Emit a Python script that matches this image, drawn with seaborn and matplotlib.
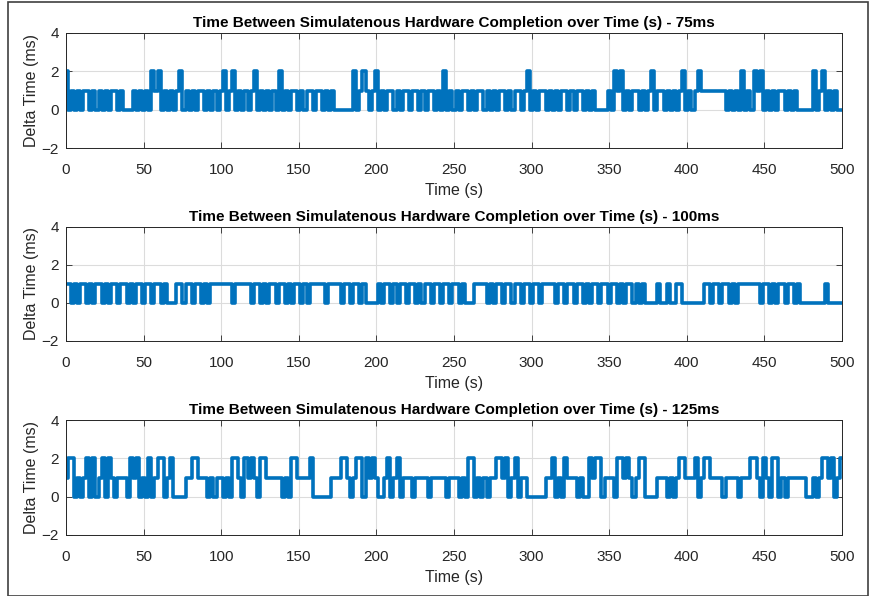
import numpy as np
import pandas as pd
import matplotlib
matplotlib.use("Agg")
import matplotlib.pyplot as plt
import seaborn as sns

# Time axis (s): one sample every 2 s, 0..500
time_s = list(range(0, 501, 2))

# Delta time values (ms), one digit per sample
delta_75ms_str = (
    "2010101101 0101011010 0010101021 2010101201 0101101010 "
    "1201201010 1201010102 0101101011 0110101000 0002012101 "
    "2010110101 1011010110 1020101011 0101101010 1101011012 "
    "0101101010 1101011010 1000010212 0101101012 0110101012 "
    "0101211111 1110101020 1021201010 1101010000 0201201010 "
    "0"
)
delta_100ms_str = (
    "1101011010 1101011011 0101101101 1010001101 1011010111 "
    "1111011111 0110101101 1010110101 1111011110 1101101000 "
    "0101101011 0110101101 1011011010 0011110101 1011011011 "
    "0110111101 1011011010 1101101101 0110101000 0100100110 "
    "0000001101 1011010111 1111011010 1101101000 0000010000 "
    "0"
)
delta_125ms_str = (
    "1220101202 0120210111 0212010201 2201200001 1221110101 "
    "1010221021 2102211111 0102211112 0000001112 2101220212 "
    "1001201201 1101111011 1110111010 2201010112 2120120110 "
    "0000011201 0211101002 1220111022 1210122000 0111010122 "
    "1112012211 1101111011 1221021022 0101111110 0101221201 "
    "2"
)

delta_75ms = [int(c) for c in delta_75ms_str.replace(" ", "")]
delta_100ms = [int(c) for c in delta_100ms_str.replace(" ", "")]
delta_125ms = [int(c) for c in delta_125ms_str.replace(" ", "")]

series = [delta_75ms, delta_100ms, delta_125ms]
titles = [
    "Time Between Simulatenous Hardware Completion over Time (s) - 75ms",
    "Time Between Simulatenous Hardware Completion over Time (s) - 100ms",
    "Time Between Simulatenous Hardware Completion over Time (s) - 125ms",
]
x_ticks = list(range(0, 501, 50))
y_ticks = [-2, 0, 2, 4]

sns.set_theme(style="ticks")
plt.rcParams["font.family"] = ["Liberation Sans", "DejaVu Sans"]

W, H = 869, 596
fig = plt.figure(figsize=(W / 100, H / 100), dpi=100)
fig.patch.set_facecolor("white")

# outer frame like screenshot border
fig.add_artist(plt.Rectangle((8 / W, 0.5 / H), (W - 9) / W, (H - 2) / H,
                             transform=fig.transFigure, fill=False,
                             edgecolor="#404040", linewidth=1.2))

tops = [33, 227, 420]
bottoms = [148, 341, 535]
left, right = 66, 842
color = "#0072BD"
txt = "#262626"

for i, vals in enumerate(series):
    ax = fig.add_axes([left / W, 1 - bottoms[i] / H,
                       (right - left) / W, (bottoms[i] - tops[i]) / H])
    n = min(len(vals), len(time_s))
    df = pd.DataFrame({"t": time_s[:n], "d": vals[:n]})
    sns.lineplot(data=df, x="t", y="d", ax=ax, color=color, linewidth=2.6,
                 drawstyle="steps-mid")
    ax.set_xlim(0, 500)
    ax.set_ylim(-2, 4)
    ax.set_xticks(x_ticks)
    ax.set_yticks(y_ticks)
    ax.grid(True, color="#dcdcdc", linewidth=0.8)
    ax.set_axisbelow(True)
    ax.tick_params(direction="in", length=4, width=0.6, colors=txt,
                   labelsize=11, top=True, right=True, labeltop=False,
                   labelright=False)
    ax.tick_params(axis="x", pad=11)
    ax.tick_params(axis="y", pad=5)
    for s in ax.spines.values():
        s.set_visible(True)
        s.set_color(txt)
        s.set_linewidth(0.7)
    ax.set_xlabel("Time (s)", fontsize=11.5, color=txt, labelpad=4)
    ax.set_ylabel("Delta Time (ms)", fontsize=11.5, color=txt, labelpad=2)
    ax.set_title(titles[i], fontsize=11, fontweight="bold", color="black", pad=4)

fig.savefig("out.png", dpi=100)
